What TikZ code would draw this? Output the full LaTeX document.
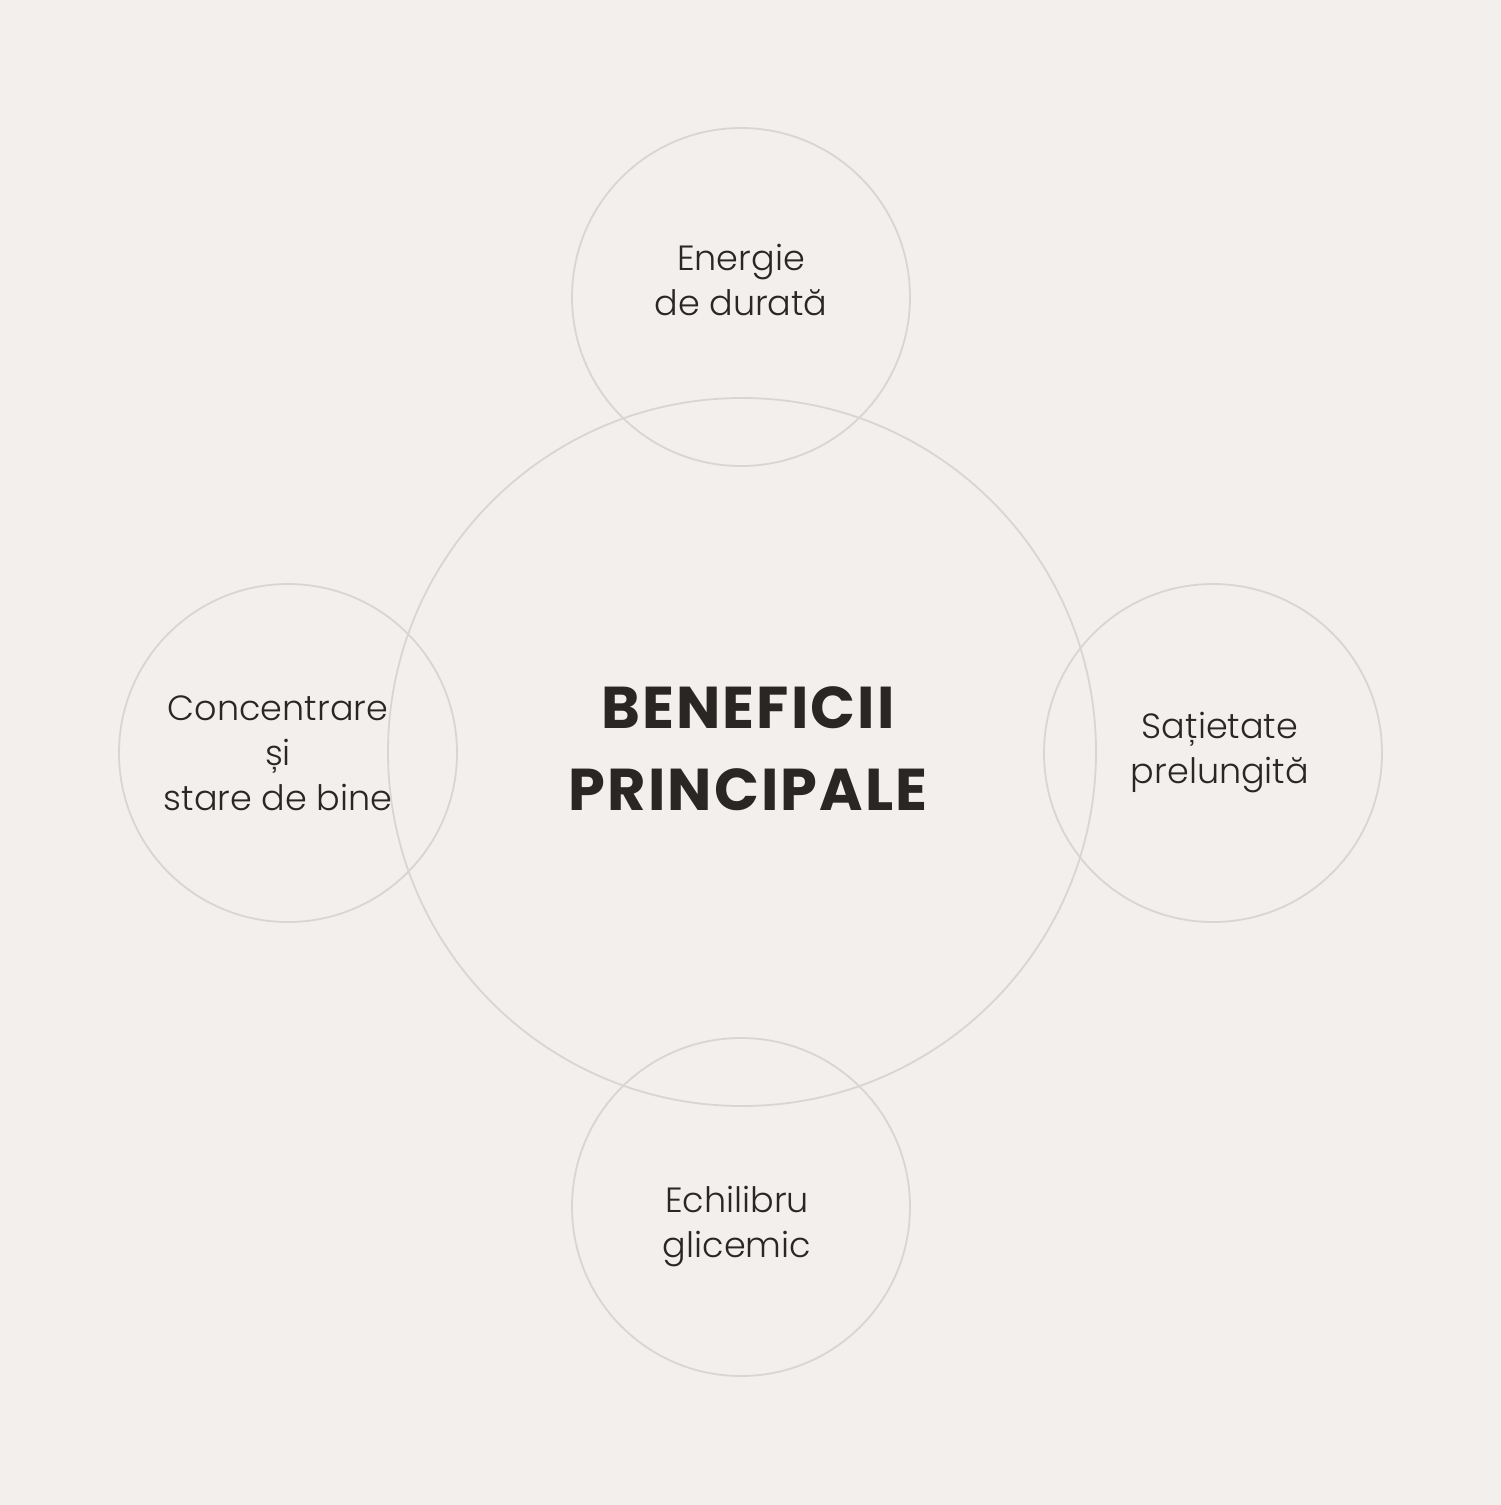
\documentclass[tikz,border=0pt]{standalone}
\usepackage{fontspec}
\setmainfont{Poppins}[UprightFont=* Light, BoldFont=* Bold]
\definecolor{bg}{HTML}{F2EFEC}
\definecolor{ring}{HTML}{D9D5D2}
\definecolor{ink}{HTML}{2A2624}
\begin{document}
\begin{tikzpicture}[x=1pt,y=-1pt,
  ringstyle/.style={draw=ring, line width=1.8pt},
  lbl/.style={text=ink, align=center, inner sep=0pt, font=\fontsize{35}{45}\selectfont},
  ttl/.style={text=ink, align=center, inner sep=0pt, font=\fontsize{59}{82}\selectfont\bfseries\addfontfeature{LetterSpace=3.5}}]
\fill[bg] (0,0) rectangle (1501,1505);
\useasboundingbox (0,0) rectangle (1501,1505);
\draw[ringstyle] (742,752) circle (354);
\draw[ringstyle] (741,297) circle (169);
\draw[ringstyle] (741,1207) circle (169);
\draw[ringstyle] (288,753) circle (169);
\draw[ringstyle] (1213,753) circle (169);
\node[ttl, anchor=base] (title) at (748,810) {BENEFICII\\PRINCIPALE};
\node[lbl, anchor=base] (top) at (741,315) {Energie\\de durată};
\node[lbl, anchor=base] (right) at (1220,783) {Sațietate\\prelungită};
\node[lbl, anchor=base] (bottom) at (737,1257) {Echilibru\\glicemic};
\node[lbl, anchor=base] (left) at (278,810) {Concentrare\\și\\stare de bine};
\end{tikzpicture}
\end{document}
